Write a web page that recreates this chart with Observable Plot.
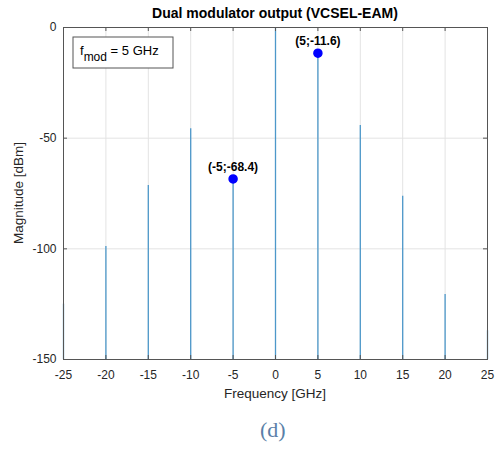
<!DOCTYPE html>
<html><head><meta charset="utf-8">
<script src="https://cdn.jsdelivr.net/npm/d3@7"></script>
<script src="https://cdn.jsdelivr.net/npm/@observablehq/plot@0.6"></script>
<style>
body{margin:0;background:#fff;font-family:"Liberation Sans",Arial,sans-serif;overflow:hidden}
#chart svg{display:block}
#caption{width:496px;height:40px;position:relative;font-family:"Liberation Serif","DejaVu Serif",serif;font-size:22px;color:#5a7fa8}
#caption span{position:absolute;left:260px;top:7px}
</style>
</head><body><div id="chart"></div><div id="caption"><span>(d)</span></div>
<script>
const frequencies = [-25, -20, -15, -10, -5, 0, 5, 10, 15, 20, 25];
const magnitudes = [-125, -99, -71.4, -45.8, -68.4, 0, -11.6, -44.3, -76.2, -120.6, -137];
const markedFrequencies = [-5, 5];
const markedMagnitudes = [-68.4, -11.6];
const markedLabels = ["(-5;-68.4)", "(5;-11.6)"];
const xTicks = [-25, -20, -15, -10, -5, 0, 5, 10, 15, 20, 25];
const yTicks = [-150, -100, -50, 0];
const titleText = "Dual modulator output (VCSEL-EAM)";
const xLabel = "Frequency [GHz]";
const yLabel = "Magnitude [dBm]";

const spectrum = frequencies.map((f, i) => ({f, m: magnitudes[i]}));
const marked = markedFrequencies.map((f, i) => ({f, m: markedMagnitudes[i], label: markedLabels[i]}));

const W = 496, H = 410;
const mL = 63, mR = 9, mT = 27, mB = 51;
const pw = W - mL - mR, ph = H - mT - mB, tk = 4;
const axisColor = "#555";
const plot = Plot.plot({
  width: W, height: H,
  marginLeft: mL, marginRight: mR, marginTop: mT, marginBottom: mB,
  style: {fontFamily: '"Liberation Sans", Arial, sans-serif', fontSize: "12px", color: "#262626", background: "#fff"},
  x: {domain: [-25, 25]},
  y: {domain: [-150, 0]},
  marks: [
    Plot.gridX(xTicks, {stroke: "#e3e3e3", strokeOpacity: 1}),
    Plot.gridY(yTicks, {stroke: "#e3e3e3", strokeOpacity: 1}),
    Plot.ruleX(spectrum, {x: "f", y1: -150, y2: "m", stroke: "#4d98ca", strokeWidth: 1.3}),
    Plot.dot(marked, {x: "f", y: "m", r: 4, fill: "#0000ff", stroke: "#0000ff"}),
    Plot.text(marked, {x: "f", y: "m", text: "label", dy: -8, lineAnchor: "bottom", fontWeight: "bold", fontSize: 12, fill: "#000"}),
    Plot.tickX(xTicks, {x: d => d, insetTop: ph - tk, stroke: axisColor}),
    Plot.tickX(xTicks, {x: d => d, insetBottom: ph - tk, stroke: axisColor}),
    Plot.tickY(yTicks, {y: d => d, insetRight: pw - tk, stroke: axisColor}),
    Plot.tickY(yTicks, {y: d => d, insetLeft: pw - tk, stroke: axisColor}),
    Plot.frame({stroke: axisColor, strokeWidth: 1}),
    Plot.axisX({ticks: xTicks, tickSize: 0, tickPadding: 11, label: null, fontSize: 12, tickFormat: d => String(d)}),
    Plot.axisY({ticks: yTicks, tickSize: 0, tickPadding: 7, label: null, fontSize: 12, tickFormat: d => String(d)})
  ]
});
document.getElementById("chart").appendChild(plot);

const xs = plot.scale("x"), ys = plot.scale("y");
const x0 = xs.range[0], x1 = xs.range[1];
const yTop = ys.apply(0), yBot = ys.apply(-150);
const cx = (x0 + x1) / 2;
const svg = d3.select(plot);

svg.append("text").attr("x", cx).attr("y", 18).attr("text-anchor", "middle")
  .attr("font-size", 14).attr("font-weight", "bold").attr("fill", "#000").text(titleText);
svg.append("text").attr("x", cx).attr("y", yBot + 39).attr("text-anchor", "middle")
  .attr("font-size", 13.5).attr("fill", "#262626").text(xLabel);
svg.append("text").attr("x", 0).attr("y", 0).attr("text-anchor", "middle")
  .attr("transform", `translate(23,${(yTop + yBot) / 2}) rotate(-90)`)
  .attr("font-size", 13.5).attr("fill", "#262626").text(yLabel);

const lg = svg.append("g").attr("transform", `translate(${x0 + 10},${yTop + 10})`);
lg.append("rect").attr("width", 100).attr("height", 31).attr("fill", "#fff").attr("stroke", axisColor);
const t = lg.append("text").attr("x", 7).attr("y", 18).attr("text-anchor", "start").attr("font-size", 13).attr("fill", "#000");
t.append("tspan").text("f");
t.append("tspan").attr("dy", 6).attr("font-size", 12).text("mod");
t.append("tspan").attr("dy", -6).text(" = 5 GHz");

// keep the top-left corner margin clear (drawn last)
svg.append("rect").attr("x", 0).attr("y", 0).attr("width", 48).attr("height", yTop + 6).attr("fill", "#fff");
svg.append("rect").attr("x", 0).attr("y", 0).attr("width", x0 - 4).attr("height", yTop - 7).attr("fill", "#fff");
</script>
</body></html>
